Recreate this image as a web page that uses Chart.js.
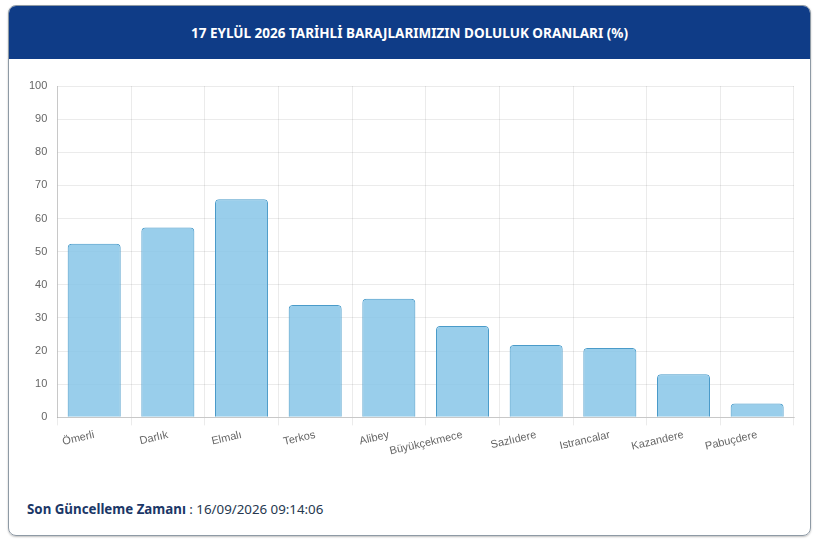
<!DOCTYPE html>
<html lang="tr">
<head>
<meta charset="utf-8">
<script src="https://cdn.jsdelivr.net/npm/chart.js@4.4.1/dist/chart.umd.min.js"></script>
<style>
    html, body { margin: 0; padding: 0; background: #fff; }
    body { width: 820px; height: 543px; position: relative; font-family: Lato, "Noto Sans", sans-serif; }
    .card {
        position: absolute; left: 8px; top: 5px; width: 803px; height: 531px;
        border: 1px solid #8e9aa5; border-radius: 8px; box-sizing: border-box;
        box-shadow: 0 1px 2px rgba(0,0,0,0.25); overflow: hidden;
    }
    .card-header {
        height: 53px; background: #0f3c87; color: #fff;
        display: flex; align-items: center; justify-content: center;
        font-family: "Noto Sans", sans-serif; font-weight: 700; font-size: 13.5px; letter-spacing: 0;
    }
    .chart-box { position: absolute; left: 0; top: 62px; width: 801px; height: 393px; }
    .footer {
        position: absolute; left: 18px; top: 494px; font-size: 13.3px; color: #26384f;
        font-family: "Noto Sans", sans-serif;
    }
    .footer b { color: #1b3767; }
</style>
</head>
<body>
<div class="card">
    <div class="card-header">17 EYLÜL 2026 TARİHLİ BARAJLARIMIZIN DOLULUK ORANLARI (%)</div>
    <div class="chart-box"><canvas id="damChart"></canvas></div>
    <div class="footer"><b>Son Güncelleme Zamanı</b> : 16/09/2026 09:14:06</div>
</div>
<script>
// Baraj isimleri ve doluluk oranlari
const damNames = ['Ömerli', 'Darlık', 'Elmalı', 'Terkos', 'Alibey', 'Büyükçekmece', 'Sazlıdere', 'Istrancalar', 'Kazandere', 'Pabuçdere'];
const fillRates = [52.4, 57.3, 65.8, 33.9, 35.8, 27.6, 21.8, 20.9, 13.0, 4.2];
const yTicks = [0, 10, 20, 30, 40, 50, 60, 70, 80, 90, 100];

document.addEventListener('DOMContentLoaded', function() {
    const ctx = document.getElementById('damChart').getContext('2d');
    new Chart(ctx, {
        type: 'bar',
        data: {
            labels: damNames,
            datasets: [{
                label: 'Doluluk (%)',
                data: fillRates,
                backgroundColor: 'rgba(135, 198, 232, 0.85)',
                borderColor: '#4a9bc9',
                borderWidth: 1,
                borderRadius: { topLeft: 4, topRight: 4 },
                borderSkipped: 'bottom'
            }]
        },
        options: {
            responsive: true,
            maintainAspectRatio: false,
            animation: false,
            layout: { padding: { left: 10, right: 16, top: 18, bottom: 0 } },
            plugins: {
                legend: { display: false },
                tooltip: { enabled: false }
            },
            scales: {
                x: {
                    grid: { color: 'rgba(0,0,0,0.08)', tickLength: 8 },
                    border: { color: 'rgba(0,0,0,0.15)' },
                    ticks: {
                        color: '#666',
                        autoSkip: false,
                        font: { family: '"Liberation Sans", Arial, sans-serif', size: 11 },
                        minRotation: 13,
                        maxRotation: 13
                    }
                },
                y: {
                    min: 0,
                    max: 100,
                    afterBuildTicks: function(axis) {
                        axis.ticks = yTicks.map(v => ({ value: v }));
                    },
                    grid: { color: 'rgba(0,0,0,0.08)', tickLength: 0 },
                    border: { color: 'rgba(0,0,0,0.15)' },
                    ticks: {
                        color: '#666',
                        padding: 10,
                        font: { family: '"Liberation Sans", Arial, sans-serif', size: 11 }
                    }
                }
            }
        }
    });
});
</script>
</body>
</html>
